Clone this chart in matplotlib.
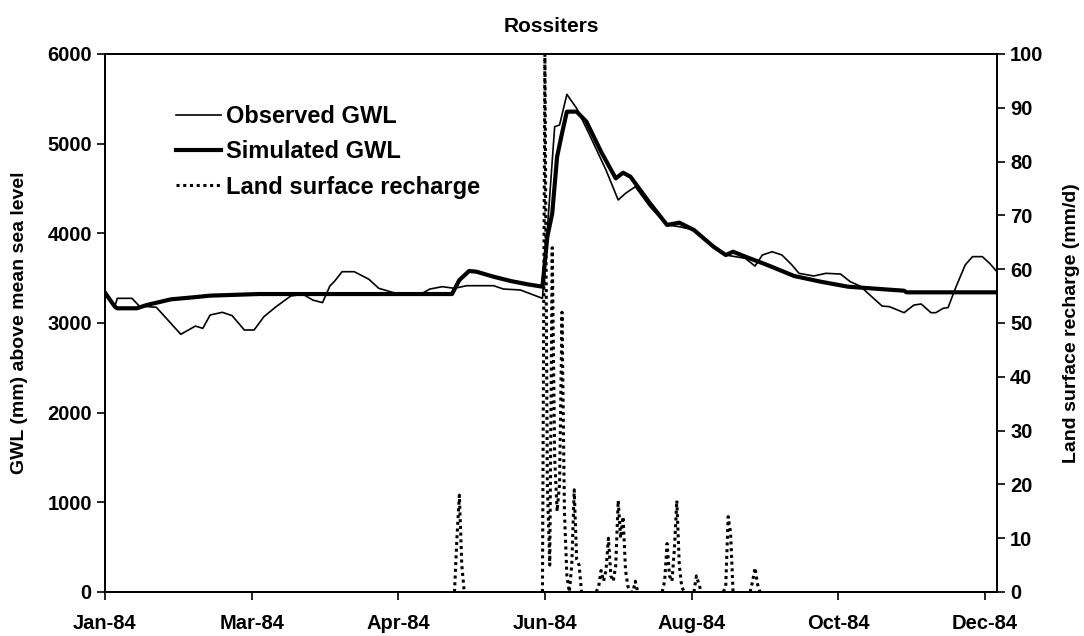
import numpy as np
import matplotlib
matplotlib.use("Agg")
import matplotlib.pyplot as plt
import matplotlib.dates as mdates

plt.rcParams['font.family'] = ['Liberation Sans', 'DejaVu Sans']
plt.rcParams['font.weight'] = 'bold'

start = np.datetime64('1984-01-01')

# Observed groundwater level (day of year, mm above msl)
obs_day = [0, 4, 5, 11, 14, 21, 31, 37, 40, 43, 48, 52, 57, 61, 65, 70, 76, 81, 85, 89,
           92, 94, 97, 102, 108, 112, 119, 129, 133, 138, 143, 148, 159, 163, 170, 179,
           184, 186, 189, 193, 198, 205, 210, 213, 217, 223, 230, 235, 241, 249, 254,
           262, 266, 269, 273, 277, 281, 284, 290, 295, 301, 305, 309, 313, 318, 321,
           327, 331, 334, 338, 340, 343, 345, 348, 352, 355, 359, 362, 365]
obs_gwl = [3338, 3182, 3275, 3275, 3190, 3175, 2874, 2966, 2940, 3089, 3119, 3082, 2922,
           2922, 3070, 3182, 3301, 3320, 3256, 3227, 3412, 3468, 3572, 3572, 3487, 3387,
           3331, 3320, 3379, 3405, 3387, 3416, 3416, 3379, 3368, 3275, 5189, 5208, 5550,
           5394, 5115, 4706, 4372, 4446, 4520, 4297, 4093, 4074, 4037, 3851, 3758, 3721,
           3635, 3758, 3795, 3758, 3650, 3554, 3524, 3554, 3546, 3460, 3412, 3312, 3189,
           3182, 3115, 3200, 3212, 3115, 3115, 3164, 3172, 3387, 3647, 3740, 3740, 3665,
           3572]

# Simulated groundwater level
sim_day = [0, 4, 5, 13, 17, 27, 36, 43, 63, 142, 145, 149, 152, 159, 166, 173, 179, 181,
           183, 185, 187, 189, 193, 197, 203, 209, 212, 215, 223, 230, 235, 241, 249, 254,
           257, 262, 271, 282, 293, 304, 313, 327, 328, 365]
sim_gwl = [3338, 3182, 3164, 3164, 3200, 3264, 3286, 3305, 3323, 3323, 3479, 3580, 3572,
           3516, 3468, 3431, 3405, 3962, 4222, 4855, 5115, 5357, 5357, 5245, 4910, 4613,
           4676, 4632, 4335, 4093, 4119, 4037, 3851, 3758, 3795, 3740, 3647, 3524, 3460,
           3405, 3387, 3360, 3342, 3342]

# Land surface recharge (mm/d), days not listed are zero
rch_day = [144, 145, 146, 180, 181, 182, 183, 184, 185, 186, 187, 188, 189, 191, 192, 193,
           194, 202, 203, 204, 205, 206, 207, 208, 209, 210, 211, 212, 213, 214, 217,
           229, 230, 231, 232, 233, 234, 235, 236, 242, 243, 254, 255, 256, 265, 266, 267]
rch_val = [10, 18, 5, 100, 20, 5, 64, 25, 15, 20, 52, 15, 3, 5, 19, 6,
           5, 1, 4, 2, 4, 10, 3, 2, 5, 17, 10, 14, 4, 1, 2,
           2, 9, 3, 2, 8, 17, 5, 1, 3, 1.5, 1, 14, 11, 2, 4.5, 1.5]

tick_days = [0, 60, 120, 180, 240, 300, 360]

obs_x = start + np.array(obs_day).astype('timedelta64[D]')
sim_x = start + np.array(sim_day).astype('timedelta64[D]')
rch = np.zeros(366)
rch[rch_day] = rch_val
# hide the flat zero runs (they sit on the axis line in the original)
wet = rch > 0
near = wet | np.r_[wet[1:], False] | np.r_[False, wet[:-1]]
rch[~near] = np.nan
rch_x = start + np.arange(366).astype('timedelta64[D]')

fig = plt.figure(figsize=(10.84, 6.36), dpi=100)
ax = fig.add_axes([0.0969, 0.0692, 0.8228, 0.8459])
ax2 = ax.twinx()

l1, = ax.plot(obs_x, obs_gwl, color='black', linewidth=1.2, label='Observed GWL')
l2, = ax.plot(sim_x, sim_gwl, color='black', linewidth=3, label='Simulated GWL')
l3, = ax2.plot(rch_x, rch, color='black', linewidth=2.2, linestyle=(0, (1, 1.2)),
               label='Land surface recharge')

ax.set_xlim(start, start + np.timedelta64(365, 'D'))
ax.set_ylim(0, 6000)
ax2.set_ylim(0, 100)
ax.set_yticks(np.arange(0, 6001, 1000))
ax2.set_yticks(np.arange(0, 101, 10))
ax.set_xticks(start + np.array(tick_days).astype('timedelta64[D]'))
ax.xaxis.set_major_formatter(mdates.DateFormatter('%b-%y'))

for a in (ax, ax2):
    a.tick_params(labelsize=14.5, width=1.2, length=6, direction='out')
    for s in a.spines.values():
        s.set_linewidth(1.3)
ax.tick_params(axis='x', pad=10)

ax.set_ylabel('GWL (mm) above mean sea level', fontsize=14, fontweight='bold', labelpad=14)
ax2.set_ylabel('Land surface recharge (mm/d)', fontsize=14, fontweight='bold', labelpad=14)
ax.set_title('Rossiters', fontsize=15, fontweight='bold', pad=16)

ax2.legend(handles=[l1, l2, l3], loc='upper left', bbox_to_anchor=(0.08, 0.905),
           frameon=False, fontsize=17, handlelength=1.9, handletextpad=0.2,
           labelspacing=0.52, borderpad=0, borderaxespad=0)

fig.savefig('out.png', dpi=100)
